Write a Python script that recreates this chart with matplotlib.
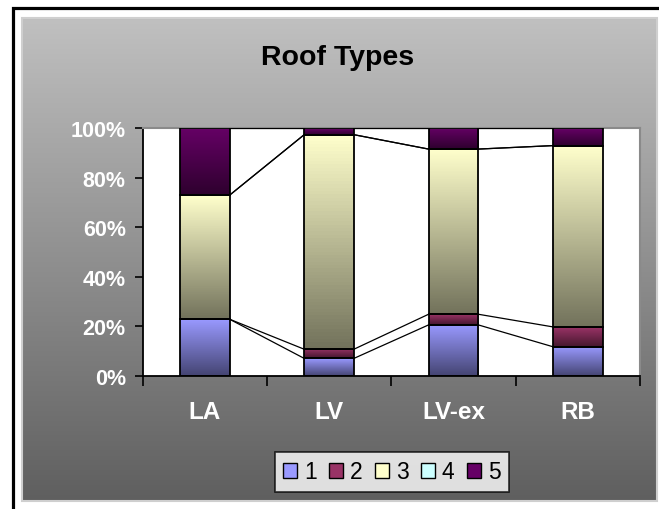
import numpy as np
import matplotlib.pyplot as plt
from matplotlib.patches import Rectangle, Patch
from matplotlib.colors import to_rgb

plt.rcParams['font.family'] = ['Liberation Sans', 'DejaVu Sans']

# share of each roof type per area, in percent
categories = ['LA', 'LV', 'LV-ex', 'RB']
type1 = [22.9, 7.1, 20.6, 11.8]
type2 = [0.0, 3.7, 4.3, 8.0]
type3 = [50.0, 86.5, 66.6, 73.1]
type4 = [0.0, 0.0, 0.0, 0.0]
type5 = [27.1, 2.7, 8.5, 7.1]
series_names = ['1', '2', '3', '4', '5']
yticks = [0, 20, 40, 60, 80, 100]

series = [type1, type2, type3, type4, type5]
colors = ['#9999ff', '#993366', '#ffffcc', '#ccffff', '#660066']
W, H = 659, 510
bar_w = 0.4


def grad(c, n=64, dark=0.45):
    top = np.array(to_rgb(c))
    bot = top * dark
    t = np.linspace(0, 1, n)[:, None]
    return (bot + (top - bot) * t)[:, None, :]


fig = plt.figure(figsize=(W / 100, H / 100), dpi=100)
fig.patch.set_facecolor('white')

# gray gradient backdrop
bg = fig.add_axes([22 / W, 1 - 502 / H, 635 / W, 483 / H], zorder=0)
g = np.linspace(95, 192, 256)[:, None] / 255.0
bg.imshow(np.repeat(g[:, :, None], 3, axis=2), aspect='auto', origin='lower',
          extent=(0, 1, 0, 1))
bg.set_xlim(0, 1)
bg.set_ylim(0, 1)
bg.axis('off')
fig.patches.append(Rectangle((22 / W, 1 - 502 / H), 635 / W, 483 / H,
                             transform=fig.transFigure, fill=False,
                             edgecolor='#cfcfcf', lw=1.5, zorder=1))
fig.patches.append(Rectangle((12.5 / W, -0.1), 1.2, 1.1 - 8.5 / H,
                             transform=fig.transFigure, fill=False,
                             edgecolor='black', lw=2.3, zorder=1))

ax = fig.add_axes([142.5 / W, 1 - 377 / H, 497.5 / W, 248 / H], zorder=2)
ax.set_facecolor('white')

x = np.arange(len(categories))
bottom = np.zeros(len(categories))
tops = []
for vals, c in zip(series, colors):
    vals = np.array(vals)
    for i in range(len(categories)):
        if vals[i] > 0:
            ax.imshow(grad(c), aspect='auto', origin='lower', zorder=2,
                      extent=(x[i] - bar_w / 2, x[i] + bar_w / 2,
                              bottom[i], bottom[i] + vals[i]))
    ax.bar(x, vals, bar_w, bottom=bottom, facecolor='none',
           edgecolor='black', lw=1.3, zorder=3)
    bottom = bottom + vals
    tops.append(bottom.copy())

# series lines joining the segment tops
for cum in tops:
    for i in range(len(categories) - 1):
        ax.plot([x[i] + bar_w / 2, x[i + 1] - bar_w / 2], [cum[i], cum[i + 1]],
                color='black', lw=0.9, zorder=4)

ax.set_xlim(-0.5, len(categories) - 0.5)
ax.set_ylim(0, 100)

ax.set_yticks(yticks)
ax.set_yticklabels([f'{v}%' for v in yticks])
ax.tick_params(axis='y', direction='out', length=6, width=1.2, pad=6,
               labelsize=15.5, labelcolor='white')
ax.set_xticks(np.arange(-0.5, len(categories), 1.0))
ax.set_xticklabels([])
ax.set_xticks(x, minor=True)
ax.set_xticklabels(categories, minor=True)
ax.tick_params(axis='x', which='major', direction='out', length=7, width=1.2)
ax.tick_params(axis='x', which='minor', length=0, pad=17, labelsize=17.5,
               labelcolor='white')
for lab in ax.get_yticklabels() + ax.get_xticklabels(minor=True):
    lab.set_fontweight('bold')

ax.spines['left'].set_linewidth(1.3)
ax.spines['bottom'].set_linewidth(1.3)
for s in ['top', 'right']:
    ax.spines[s].set_color('#8a8a8a')
    ax.spines[s].set_linewidth(1.5)

fig.text(338 / W, 1 - 58 / H, 'Roof Types', ha='center', va='center',
         fontsize=20.5, fontweight='bold', color='black', zorder=5)

handles = [Patch(facecolor=c, edgecolor='black', lw=1.0) for c in colors]
leg = fig.legend(handles, series_names, loc='center',
                 bbox_to_anchor=(392 / W, 1 - 473 / H), ncol=5,
                 fontsize=16.5, frameon=True, fancybox=False,
                 handlelength=0.6, handleheight=0.6, handletextpad=0.3,
                 columnspacing=0.55, borderpad=0.35, borderaxespad=0)
leg.get_frame().set_edgecolor('black')
leg.get_frame().set_linewidth(1.2)
leg.set_zorder(5)

fig.savefig('out.png', dpi=100)
